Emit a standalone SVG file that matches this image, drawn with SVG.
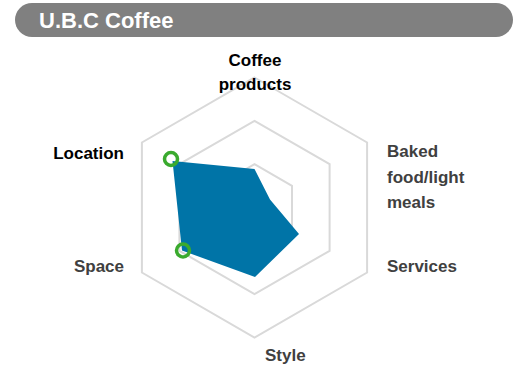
<svg xmlns="http://www.w3.org/2000/svg" width="514" height="369" viewBox="0 0 514 369">
<style>
.grid{fill:none;stroke:#d9d9d9;stroke-width:2}
.lbl{font-family:"Liberation Sans",Arial,sans-serif;font-weight:bold;font-size:17px;fill:#404040}
.dark{fill:#000}
.mark{fill:none;stroke:#3aaa2e;stroke-width:3.5}
</style>
<rect width="514" height="369" fill="#fff"/>
<g id="header">
<rect x="15" y="3" width="498" height="34" rx="17" fill="#808080"/>
<text x="39" y="28" font-family="'Liberation Sans',Arial,sans-serif" font-weight="bold" font-size="22" fill="#fff">U.B.C Coffee</text>
</g>
<g id="grid">
<polygon class="grid" points="254.5,77.5 367.1,142.5 367.1,272.5 254.5,337.5 141.9,272.5 141.9,142.5"/>
<polygon class="grid" points="254.5,120.8 329.6,164.2 329.6,250.8 254.5,294.2 179.4,250.8 179.4,164.2"/>
<polygon class="grid" points="254.5,164.2 292,185.8 292,229.2 254.5,250.8 217,229.2 217,185.8"/>
</g>
<g id="series">
<polygon points="254.5,169 270,199.5 299,234 255,277 182,250.5 172.5,161" fill="#0074a7"/>
</g>
<g id="markers">
<circle class="mark" cx="171" cy="159" r="6.5"/>
<circle class="mark" cx="183" cy="250.5" r="6.5"/>
</g>
<g id="labels">
<text class="lbl dark" x="255" y="66" text-anchor="middle">Coffee</text>
<text class="lbl dark" x="255" y="90" text-anchor="middle">products</text>
<text class="lbl" x="387" y="157">Baked</text>
<text class="lbl" x="387" y="183">food/light</text>
<text class="lbl" x="387" y="208">meals</text>
<text class="lbl" x="387" y="272">Services</text>
<text class="lbl" x="265" y="361">Style</text>
<text class="lbl" x="124" y="272" text-anchor="end">Space</text>
<text class="lbl dark" x="124" y="159" text-anchor="end">Location</text>
</g>
</svg>
